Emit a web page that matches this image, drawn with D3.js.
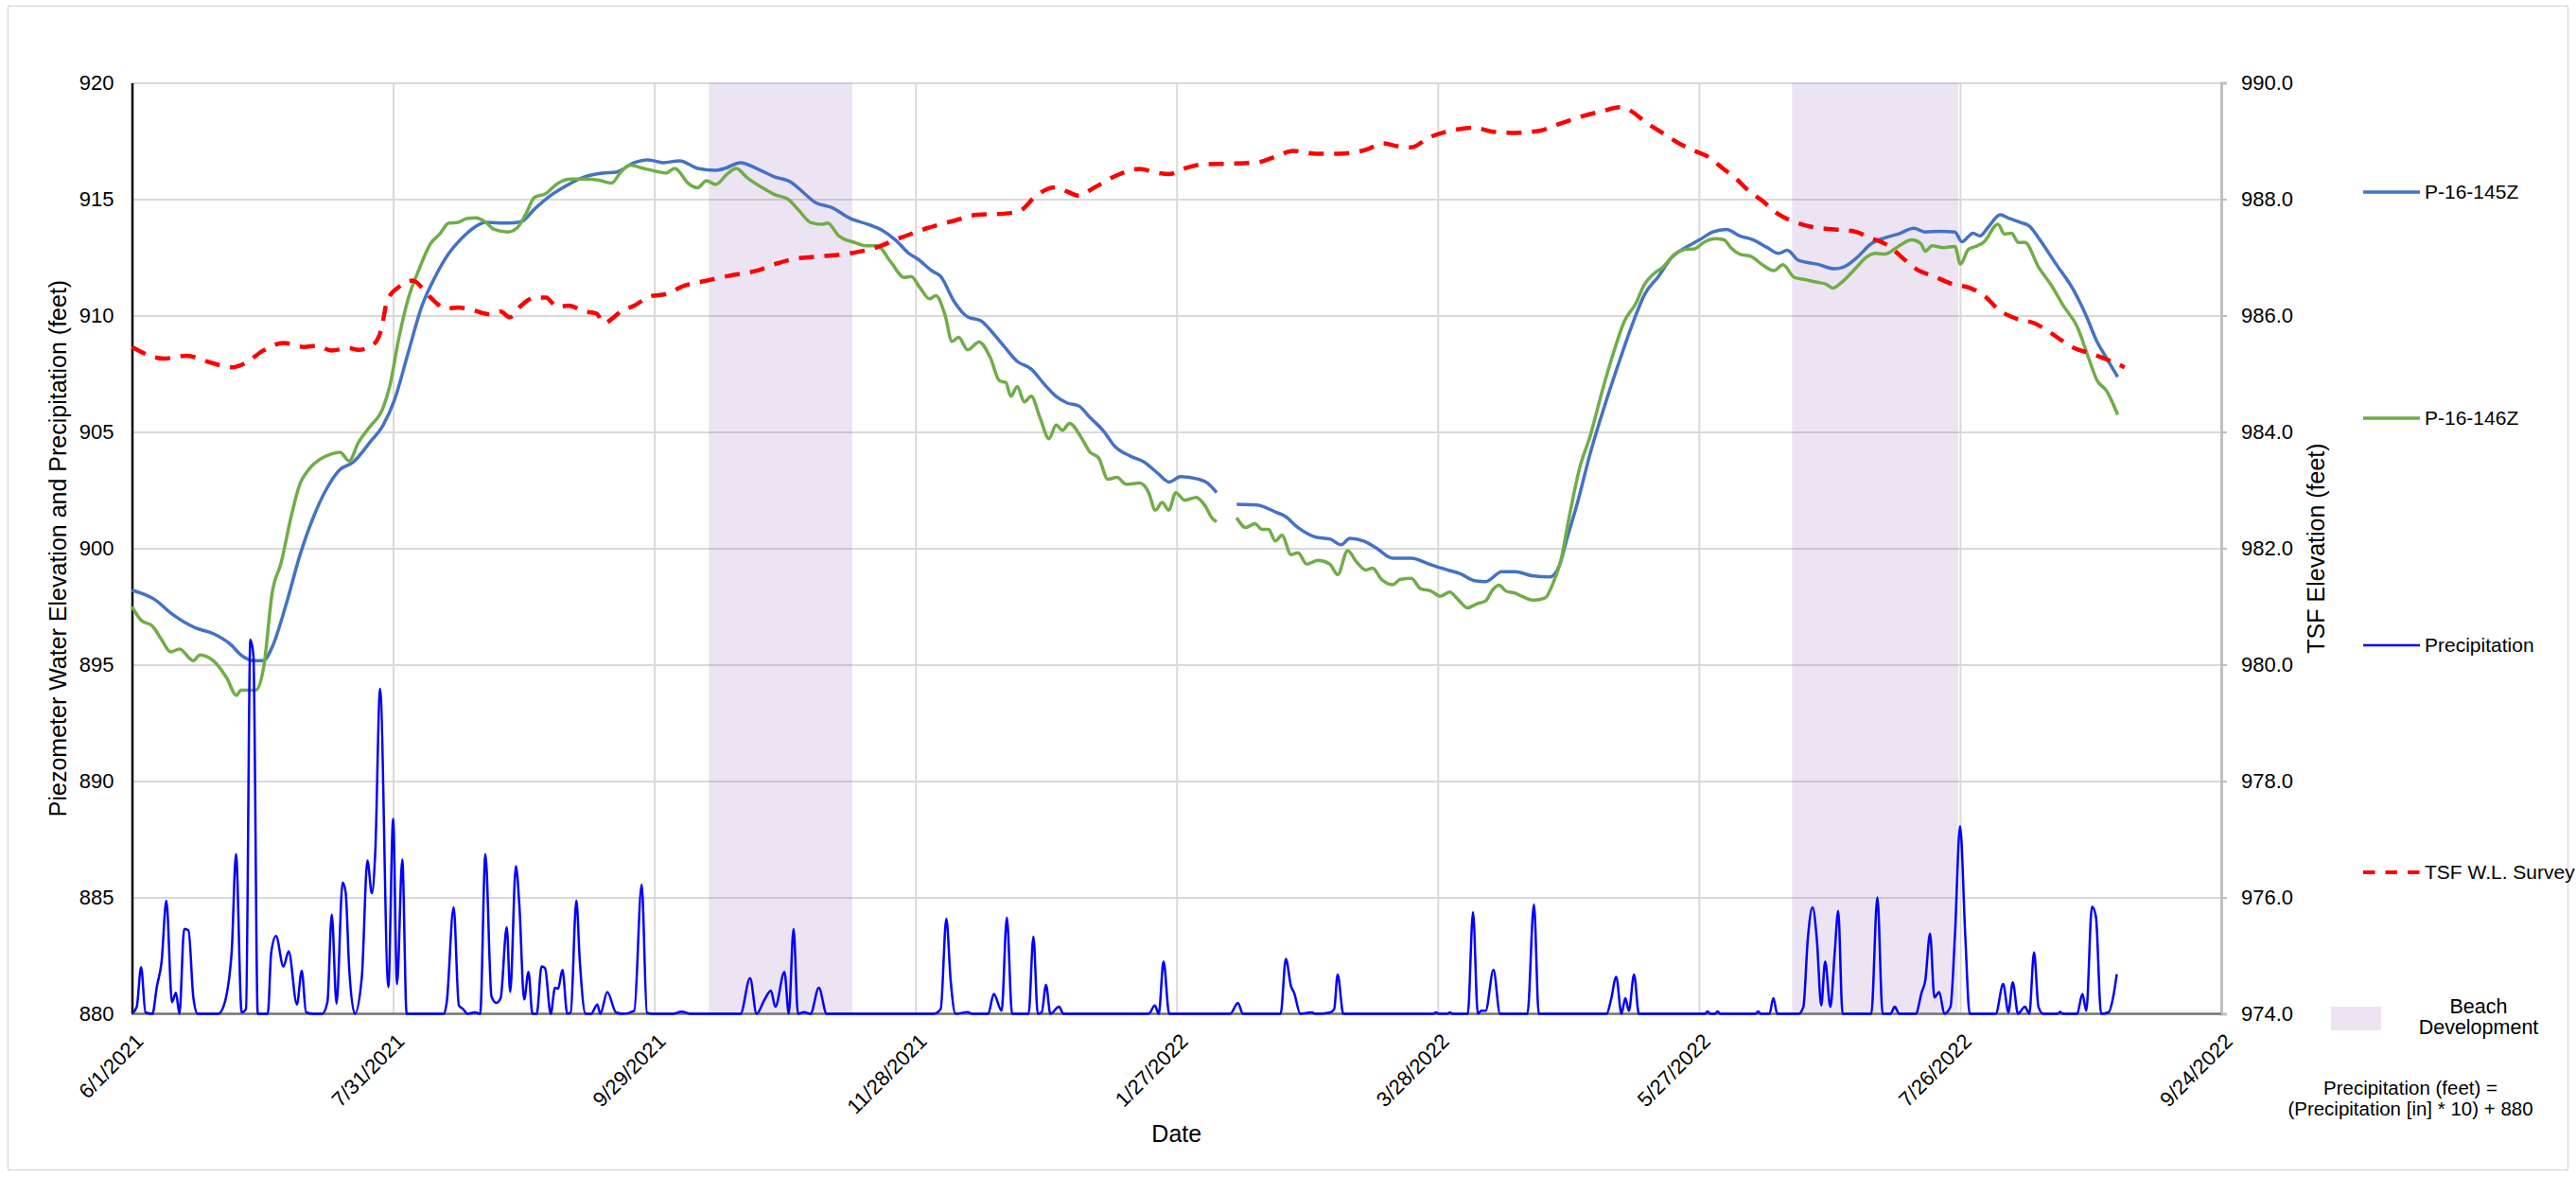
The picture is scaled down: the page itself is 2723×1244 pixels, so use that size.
<!DOCTYPE html>
<html>
<head>
<meta charset="utf-8">
<script src="https://cdn.jsdelivr.net/npm/d3@7"></script>
<style>
  body { margin: 0; background: #fff; }
  text { font-family: "Liberation Sans", Arial, sans-serif; fill: #000; }
</style>
</head>
<body>
<div class="chart"></div>
<script>
// Chart data (x = days after 6/1/2021)
var startDay = "6/1/2021";
var endDay = "9/24/2022";
var dateTicks = ["6/1/2021", "7/31/2021", "9/29/2021", "11/28/2021", "1/27/2022",
  "3/28/2022", "5/27/2022", "7/26/2022", "9/24/2022"];
var leftTicks = [880, 885, 890, 895, 900, 905, 910, 915, 920];
var rightTicks = [974, 976, 978, 980, 982, 984, 986, 988, 990];

// beach development periods, [from day, to day]
var beachPeriods = [[132.5, 165.5], [381.4, 419.6]];

var p145 = [[0,898.2],[5.2,897.8],[9.4,897.15],[14.6,896.58],[18.7,896.33],[22.9,895.83],[25,895.42],[28.1,895.17],
  [30.2,895.17],[32.2,895.75],[35.4,897.58],[38.5,899.65],[41.6,901.3],[44.7,902.55],[47.8,903.38],[50.9,903.71],
  [54.6,904.54],[57.7,905.29],[60.3,906.37],[63.4,908.36],[66.5,910.35],[69.7,911.68],[72.8,912.67],[75.9,913.34],
  [79,913.83],[81.1,914.0],[86.3,913.97],[89.4,914.03],[92.5,914.58],[95.6,915.08],[99.8,915.58],[104,915.96],
  [108.1,916.12],[111.2,916.16],[115.4,916.57],[118.5,916.69],[122.1,916.57],[125.8,916.65],[130,916.32],
  [134.1,916.24],[136.2,916.32],[139.8,916.57],[143.5,916.32],[147.6,915.96],[151.3,915.74],[153.8,915.36],
  [157,914.86],[160.9,914.63],[165,914.17],[169.1,913.92],[172.3,913.67],[175.4,913.25],[178.5,912.67],
  [180.6,912.42],[183.7,911.93],[185.8,911.68],[188.9,910.6],[192,909.94],[195.1,909.77],[197.7,909.27],
  [200.3,908.69],[203.4,908.03],[206.6,907.7],[209.7,907.03],[212.3,906.53],[214.9,906.24],[217.5,906.12],
  [220.1,905.62],[223.2,905.04],[225.8,904.38],[229.4,903.96],[232.5,903.71],[235.7,903.22],[238.3,902.85],
  [240.9,903.08],[245,902.97],[247.1,902.8],[249.2,902.39], null,
  [253.8,901.89],[258.5,901.86],[262.7,901.56],[264.8,901.39],[267.9,900.89],[272,900.48],[275.2,900.4],
  [277.8,900.15],[279.8,900.43],[283,900.31],[285.5,900.06],[289.7,899.57],[293.9,899.57],[298,899.32],
  [302.2,899.07],[305.3,898.9],[308.4,898.61],[311,898.57],[314.7,898.99],[317.8,898.99],[321.7,898.82],
  [325.8,898.77],[327.9,899.24],[329.9,900.56],[332,901.89],[335.1,904.13],[338.2,906.04],[341.4,907.86],
  [344.5,909.52],[347.6,910.93],[350.7,911.68],[353.8,912.51],[356.9,912.92],[360.1,913.25],[363.2,913.59],
  [366.3,913.7],[369.4,913.42],[372.5,913.25],[375.7,912.92],[378.3,912.67],[380.3,912.8],[382.9,912.37],
  [387.1,912.21],[391.2,912.01],[393.3,912.09],[396.4,912.51],[399.6,913.09],[402.7,913.34],[405.8,913.5],
  [409.4,913.75],[412,913.59],[415.2,913.62],[418.8,913.59],[420.4,913.17],[423,913.54],[424.5,913.42],
  [426.6,913.83],[429.2,914.33],[431.3,914.17],[433.9,914.0],[436,913.83],[438,913.34],[442.2,912.17],
  [445.8,911.18],[448.9,910.02],[451.5,908.86],[453.6,908.19],[456.2,907.36]];

var p146 = [[0,897.5],[2.1,896.91],[4.7,896.66],[6.8,896.08],[8.9,895.55],[10.9,895.67],[14.1,895.17],[15.6,895.42],
  [18.7,895.17],[21.8,894.42],[24,893.68],[25,893.9],[28.4,893.9],[30.3,894.94],[32.2,898.07],[34.3,899.4],
  [36.4,901.22],[38.5,902.72],[40.6,903.38],[43.7,903.88],[45.8,904.05],[47.8,904.13],[49.9,903.75],[52,904.54],
  [54.6,905.21],[57.7,906.04],[59.3,907.03],[61.3,909.02],[63.4,910.68],[66,912.01],[68.6,913.09],[70.7,913.5],
  [72.8,913.97],[74.9,914.0],[76.9,914.17],[79,914.2],[81.1,914.03],[83.2,913.7],[86.3,913.59],[88.4,913.75],
  [90.4,914.33],[92.5,915.08],[95.1,915.24],[97.7,915.66],[100.8,915.86],[104,915.86],[107.1,915.82],
  [110.2,915.69],[112.3,916.16],[114.4,916.46],[117.5,916.32],[120.6,916.19],[122.7,916.12],[124.7,916.32],
  [127.9,915.66],[129.9,915.49],[132,915.79],[134.1,915.63],[136.7,916.07],[138.8,916.32],[141.4,915.91],
  [144.5,915.53],[147.6,915.2],[150.7,915.0],[153.3,914.5],[155.9,914.0],[158.5,913.92],[159.8,913.97],
  [162.4,913.42],[166,913.14],[168.6,913.0],[171.2,913.0],[174.3,912.31],[177.4,911.64],[179,911.68],
  [181.1,911.18],[183.2,910.72],[184.7,910.85],[186.8,910.02],[188.4,908.89],[189.9,909.06],[192,908.53],
  [194.6,908.86],[197.2,908.19],[199.3,907.2],[200.8,907.11],[201.9,906.53],[203.4,906.95],[205,906.29],
  [206.6,906.53],[208.6,905.62],[210.7,904.71],[212.3,905.29],[213.8,905.07],[215.4,905.37],[218,904.79],
  [220.1,904.13],[222.1,903.88],[224.2,902.97],[226.3,903.05],[228.4,902.75],[231.5,902.8],[233.6,902.39],
  [235.1,901.64],[236.7,901.97],[238.2,901.64],[239.8,902.39],[241.9,902.06],[244.5,902.19],[246.6,901.81],
  [248.1,901.31],[249.2,901.14], null,
  [253.8,901.31],[255.9,900.89],[258,901.06],[259.6,900.81],[261.1,900.81],[262.7,900.31],[264.2,900.56],
  [266.3,899.73],[267.9,899.81],[269.9,899.32],[272.5,899.48],[275.2,899.32],[277,898.87],[279.3,899.9],
  [281.4,899.4],[283.5,899.07],[285,899.15],[287.1,898.66],[289.7,898.44],[291.3,898.66],[293.9,898.71],
  [296,898.27],[298.5,898.16],[300.6,897.94],[302.7,898.12],[304.8,897.77],[306.8,897.44],[308.9,897.61],
  [311,897.74],[312.6,898.21],[314.1,898.41],[315.7,898.16],[317.8,898.07],[319.3,897.94],[322.1,897.77],
  [324.7,897.87],[326.3,898.41],[328.4,899.57],[329.9,901.06],[332.5,903.38],[335.1,904.88],[337.7,906.7],
  [340.3,908.36],[342.9,909.77],[345.5,910.52],[347.4,911.31],[349.7,911.81],[351.8,912.09],[354.4,912.64],
  [356.9,912.84],[359,912.87],[361.1,913.14],[363.7,913.3],[365.8,913.25],[367.3,912.92],[369.4,912.64],
  [372,912.54],[374.6,912.18],[377.2,911.93],[379.3,912.18],[381.9,911.64],[384.5,911.54],[387.1,911.43],
  [389.2,911.35],[390.7,911.18],[392.8,911.43],[395.9,912.01],[398.5,912.51],[400.6,912.67],[402.7,912.64],
  [405.8,912.97],[408.9,913.25],[411,913.09],[412,912.76],[413.6,913.0],[416.2,912.92],[418.8,912.97],
  [420.1,912.21],[421.9,912.84],[424,913.0],[425.5,913.17],[428.7,913.92],[430.2,913.5],[431.8,913.54],
  [433.4,913.14],[434.9,913.14],[438,912.09],[441.1,911.26],[443.7,910.43],[446.9,909.52],[449.5,908.19],
  [451.5,907.2],[453.6,906.78],[456.2,905.74]];

// precipitation already converted: (inches * 10) + 880
var precip = [[0,880],[1.1,880.3],[2.1,882],[3.1,880.06],[4.7,880],[5.7,881.15],[6.8,882.23],[7.9,884.86],
  [9.2,880.5],[10.1,880.9],[10.9,880],[12,883.65],[13,883.58],[14.1,880.7],[15.1,880],[19.8,880],[21,880.3],
  [22.9,882.64],[23.9,886.86],[25.2,880.06],[26.2,880.2],[27.2,896.07],[27.9,895.4],[28.9,880],[31.2,880],
  [32,882.64],[33.1,883.34],[34.8,882.03],[36,882.68],[37.9,880.4],[39,881.85],[40,880.06],[41.6,880],
  [43.7,880],[44.9,880.5],[45.9,884.26],[47,880.44],[48.4,885.64],[49.1,885.21],[49.9,881.96],[51.2,880],
  [52.8,881.55],[54.1,886.59],[55.1,885.18],[55.9,886.97],[57,893.96],[58.9,881.15],[60,888.37],[60.9,881.28],
  [62.1,886.63],[63.1,880],[71.7,880],[72.3,880.47],[73.9,884.57],[75.1,880.36],[76.1,880.2],[77.1,880],
  [78.8,880.06],[80,880],[81.2,886.86],[82.6,880.74],[83.7,880.47],[84.7,880.67],[86.1,883.72],[86.9,880.94],
  [88.2,886.34],[89,884.67],[90.1,880.62],[91.1,881.8],[92,880],[93,880],[94.1,882.03],[94.9,881.96],[96.2,880],
  [97.2,881.12],[97.9,881.08],[98.9,881.89],[100,880],[100.8,880.06],[102.1,884.87],[102.9,882.23],[104.2,880],
  [105.5,880],[106.9,880.4],[107.6,880],[109.2,880.94],[111.2,880.06],[112.8,880],[115.4,880.13],[117.1,885.55],
  [118.3,880.06],[119.5,880],[124.2,880],[126.3,880.09],[128.4,880],[139.8,880],[142,881.53],[143.5,880],
  [145.3,880.6],[146.8,881],[147.8,880.3],[149.9,881.8],[150.9,880],[152,883.65],[153,880],[154.4,880.07],
  [155.9,880],[157.8,881.12],[159.6,880],[184.2,880],[185.8,880.2],[187.1,884.09],[188.1,881.41],[189.2,880],
  [192,880.07],[193,880],[196.7,880],[198,880.85],[199.8,880.13],[201,884.13],[202.2,880],[206,880],
  [207.1,883.31],[208.1,880],[209,880.06],[210,881.24],[211,880],[213,880.3],[214,880],[233.6,880],[235,880.36],
  [235.9,880],[237,882.25],[238.3,880],[252.3,880],[254.1,880.47],[255.2,880],[263.9,880],[265.1,882.36],
  [266.3,881.17],[267,880.9],[268.4,880],[271,880.06],[272,880],[275.2,880.05],[276.2,880.2],[277,881.69],
  [278.3,880],[299,880],[299.6,880.06],[300.3,880],[302.2,880],[302.8,880.06],[303.4,880],[306.9,880],
  [308.1,884.36],[309.2,880],[310,880.13],[311,880.13],[312.8,881.89],[314.3,880],[320.6,880],[322.1,884.7],
  [323.2,880],[338.8,880],[339.8,880.6],[341,881.59],[342.2,880],[343.1,880.67],[343.9,880.13],[345.1,881.69],
  [346.2,880],[361.4,880],[362,880.1],[362.6,880],[363.7,880],[364.3,880.1],[364.9,880],[373,880],[373.6,880.1],
  [374.2,880],[376.2,880],[377.1,880.67],[378,880],[382.9,880],[384,880.3],[385,883.18],[386.1,884.57],
  [387.1,883.18],[388.1,880.36],[389,882.25],[390.2,880.3],[391.2,882.64],[392,884.42],[393,880],[399.6,880],
  [401,885],[402.2,880],[404,880],[405,880.3],[406,880],[409.8,880],[411.2,880.94],[412,881.42],[413.1,883.45],
  [414.1,880.7],[415.2,880.94],[416.4,880],[417.8,880.3],[418.8,883.31],[420,888.06],[421.2,883.31],[422.2,880],
  [428.2,880],[429.9,881.28],[431.1,880.06],[432.1,881.35],[433.3,880],[434.9,880.3],[435.9,880],[437,882.64],
  [438,880.3],[439.1,880],[442.4,880],[443,880.08],[443.6,880],[446.9,880],[448.1,880.85],[449,880.13],
  [450.3,884.6],[451.2,884.19],[452.4,880],[454.1,880.06],[455.2,880.74],[456,881.7]];

// TSF W.L. survey, right axis (feet)
var tsf = [[0,985.46],[7.3,985.26],[12.5,985.31],[17.7,985.2],[22.9,985.11],[26,985.18],[30.2,985.4],[34.8,985.53],
  [39.5,985.46],[42.6,985.48],[45.8,985.4],[49.9,985.44],[52,985.41],[55.1,985.48],[57.2,985.74],[58.7,986.27],
  [61.3,986.49],[64.5,986.6],[66.5,986.49],[68.6,986.31],[72.3,986.12],[74.9,986.14],[78.5,986.09],[82.1,986.02],
  [84.7,986.07],[86.8,985.97],[89.4,986.17],[92.5,986.31],[95.1,986.31],[97.7,986.15],[100.3,986.17],[104,986.07],
  [106.6,986.04],[108.6,985.87],[110.2,985.94],[112.3,986.07],[115.4,986.17],[119,986.33],[122.7,986.37],
  [126.8,986.51],[132,986.6],[138.3,986.7],[143.5,986.77],[147.6,986.88],[151.8,986.97],[157,987.01],[165,987.07],
  [170.2,987.15],[176.4,987.33],[182.6,987.5],[188.9,987.63],[194.1,987.73],[200.3,987.75],[204,987.8],
  [207.6,988.05],[211.7,988.2],[214.9,988.13],[217.5,988.06],[221.1,988.2],[226.3,988.41],[231.5,988.52],
  [235.1,988.46],[238.3,988.43],[241.9,988.53],[246.1,988.6],[252.3,988.61],[258.5,988.63],[262.7,988.73],
  [266.8,988.83],[272,988.78],[277.2,988.78],[283.5,988.85],[287.6,988.96],[290.7,988.91],[293.9,988.89],
  [298,989.06],[303.2,989.18],[308.4,989.23],[312.6,989.16],[317.8,989.14],[323.7,989.18],[327.8,989.29],
  [333,989.42],[337.7,989.51],[341.9,989.58],[344.5,989.51],[347.6,989.33],[351.8,989.13],[355.9,988.94],
  [359,988.83],[362.1,988.73],[365.3,988.54],[368.4,988.36],[371.5,988.14],[374.6,987.97],[377.7,987.77],
  [381.9,987.61],[386.1,987.52],[391.2,987.48],[395.4,987.45],[399.6,987.33],[403.7,987.19],[406.8,986.99],
  [409.9,986.8],[414.1,986.67],[418.3,986.54],[422.4,986.47],[425.6,986.34],[428.7,986.11],[432.8,985.95],
  [437,985.87],[440.1,985.74],[443.2,985.58],[446.3,985.44],[449.5,985.36],[452.6,985.28],[455.2,985.2],
  [457.8,985.11]];

var svgWidth = 2723;
var svgHeight = 1244;

var margin = {
  top: 87.5,
  right: 375,
  bottom: 172.5,
  left: 139.5
};

var width = svgWidth - margin.left - margin.right;
var height = svgHeight - margin.top - margin.bottom;

var parseDay = d3.utcParse("%m/%d/%Y");
var start = parseDay(startDay);
function toDate(day) {
  return new Date(start.getTime() + day * 864e5);
}

var svg = d3.select(".chart")
  .append("svg")
  .attr("width", svgWidth)
  .attr("height", svgHeight);

// outer frame
svg.append("rect")
  .attr("x", 8.5)
  .attr("y", 6.5)
  .attr("width", svgWidth - 17)
  .attr("height", svgHeight - 14)
  .attr("fill", "none")
  .attr("stroke", "#d9d9d9")
  .attr("stroke-width", 1.5);

var chartGroup = svg.append("g")
  .attr("transform", `translate(${margin.left}, ${margin.top})`);

// Scales
var xScale = d3.scaleUtc()
  .domain([start, parseDay(endDay)])
  .range([0, width]);

var yLeft = d3.scaleLinear()
  .domain([880, 920])
  .range([height, 0]);

var yRight = d3.scaleLinear()
  .domain([974, 990])
  .range([height, 0]);

// Gridlines
chartGroup.append("g")
  .attr("class", "grid")
  .call(d3.axisLeft(yLeft).tickValues(leftTicks).tickSize(-width).tickFormat(""))
  .call(g => g.select(".domain").remove())
  .call(g => g.selectAll("line").attr("stroke", "#d9d9d9").attr("stroke-width", 2));

chartGroup.append("g")
  .attr("class", "grid")
  .attr("transform", `translate(0, ${height})`)
  .call(d3.axisBottom(xScale).tickValues(dateTicks.map(parseDay)).tickSize(-height).tickFormat(""))
  .call(g => g.select(".domain").remove())
  .call(g => g.selectAll("line").attr("stroke", "#d9d9d9").attr("stroke-width", 2));

// Beach development shading
chartGroup.selectAll(".beach")
  .data(beachPeriods)
  .enter()
  .append("rect")
  .attr("class", "beach")
  .attr("x", d => xScale(toDate(d[0])))
  .attr("width", d => xScale(toDate(d[1])) - xScale(toDate(d[0])))
  .attr("y", 0)
  .attr("height", height)
  .attr("fill", "#7030a0")
  .attr("fill-opacity", 0.13);

// Left axis
chartGroup.append("g")
  .call(d3.axisLeft(yLeft).tickValues(leftTicks).tickSize(0).tickPadding(19))
  .call(g => g.select(".domain").attr("stroke", "#000").attr("stroke-width", 2.5))
  .call(g => g.selectAll("text").attr("font-size", 22).attr("font-family", "Liberation Sans, Arial, sans-serif"));

// Right axis
chartGroup.append("g")
  .attr("transform", `translate(${width}, 0)`)
  .call(d3.axisRight(yRight).tickValues(rightTicks).tickSize(6).tickPadding(15).tickFormat(d3.format(".1f")))
  .call(g => g.select(".domain").attr("stroke", "#bfbfbf").attr("stroke-width", 3))
  .call(g => g.selectAll("line").attr("stroke", "#bfbfbf").attr("stroke-width", 2))
  .call(g => g.selectAll("text").attr("font-size", 22).attr("font-family", "Liberation Sans, Arial, sans-serif"));

// Bottom axis line and rotated date labels
chartGroup.append("line")
  .attr("x1", 0)
  .attr("x2", width)
  .attr("y1", height)
  .attr("y2", height)
  .attr("stroke", "#767676")
  .attr("stroke-width", 2.5);

chartGroup.selectAll(".dateLabel")
  .data(dateTicks)
  .enter()
  .append("text")
  .attr("class", "dateLabel")
  .attr("transform", d => `translate(${xScale(parseDay(d)) + 8}, ${height + 25}) rotate(-45)`)
  .attr("text-anchor", "end")
  .attr("dy", "0.35em")
  .attr("font-size", 22)
  .text(d => d);

// Series
var lineLeft = d3.line()
  .defined(d => d !== null)
  .x(d => xScale(toDate(d[0])))
  .y(d => yLeft(d[1]))
  .curve(d3.curveMonotoneX);

var lineRight = d3.line()
  .x(d => xScale(toDate(d[0])))
  .y(d => yRight(d[1]))
  .curve(d3.curveMonotoneX);

chartGroup.append("path")
  .datum(p145)
  .attr("fill", "none")
  .attr("stroke", "#4472c4")
  .attr("stroke-width", 3.5)
  .attr("stroke-linejoin", "round")
  .attr("d", lineLeft);

chartGroup.append("path")
  .datum(p146)
  .attr("fill", "none")
  .attr("stroke", "#70ad47")
  .attr("stroke-width", 3.5)
  .attr("stroke-linejoin", "round")
  .attr("d", lineLeft);

chartGroup.append("path")
  .datum(precip)
  .attr("fill", "none")
  .attr("stroke", "#0000ff")
  .attr("stroke-width", 2.5)
  .attr("stroke-linejoin", "round")
  .attr("d", lineLeft);

chartGroup.append("path")
  .datum(tsf)
  .attr("fill", "none")
  .attr("stroke", "#ff0000")
  .attr("stroke-width", 4.5)
  .attr("stroke-dasharray", "16,11")
  .attr("d", lineRight);

// Axis titles
svg.append("text")
  .attr("transform", `translate(61, ${margin.top + height / 2}) rotate(-90)`)
  .attr("text-anchor", "middle")
  .attr("dy", "0.35em")
  .attr("font-size", 25)
  .text("Piezometer Water Elevation and Precipitation (feet)");

svg.append("text")
  .attr("transform", `translate(2448, ${margin.top + height / 2}) rotate(-90)`)
  .attr("text-anchor", "middle")
  .attr("dy", "0.35em")
  .attr("font-size", 25)
  .text("TSF Elevation (feet)");

svg.append("text")
  .attr("x", margin.left + width / 2)
  .attr("y", 1207)
  .attr("text-anchor", "middle")
  .attr("font-size", 25)
  .text("Date");

// Legend
var legendItems = [
  {name: "P-16-145Z", color: "#4472c4", width: 3.5, dash: null, y: 203},
  {name: "P-16-146Z", color: "#70ad47", width: 3.5, dash: null, y: 442},
  {name: "Precipitation", color: "#0000ff", width: 2.5, dash: null, y: 682},
  {name: "TSF W.L. Survey", color: "#ff0000", width: 4, dash: "12.5,11", y: 922}
];

var legend = svg.append("g");

legend.selectAll("line")
  .data(legendItems)
  .enter()
  .append("line")
  .attr("x1", 2498)
  .attr("x2", 2558)
  .attr("y1", d => d.y)
  .attr("y2", d => d.y)
  .attr("stroke", d => d.color)
  .attr("stroke-width", d => d.width)
  .attr("stroke-dasharray", d => d.dash);

legend.selectAll("text")
  .data(legendItems)
  .enter()
  .append("text")
  .attr("x", 2563)
  .attr("y", d => d.y)
  .attr("dy", "0.35em")
  .attr("font-size", 21)
  .text(d => d.name);

legend.append("rect")
  .attr("x", 2464)
  .attr("y", 1064)
  .attr("width", 53)
  .attr("height", 25)
  .attr("fill", "#7030a0")
  .attr("fill-opacity", 0.13);

legend.append("text")
  .attr("x", 2620)
  .attr("y", 1070.5)
  .attr("text-anchor", "middle")
  .attr("font-size", 21.5)
  .text("Beach");

legend.append("text")
  .attr("x", 2620)
  .attr("y", 1093)
  .attr("text-anchor", "middle")
  .attr("font-size", 21.5)
  .text("Development");

svg.append("text")
  .attr("x", 2548)
  .attr("y", 1156.5)
  .attr("text-anchor", "middle")
  .attr("font-size", 20.5)
  .text("Precipitation (feet) =");

svg.append("text")
  .attr("x", 2548)
  .attr("y", 1178.5)
  .attr("text-anchor", "middle")
  .attr("font-size", 20.5)
  .text("(Precipitation [in] * 10) + 880");
</script>
</body>
</html>
